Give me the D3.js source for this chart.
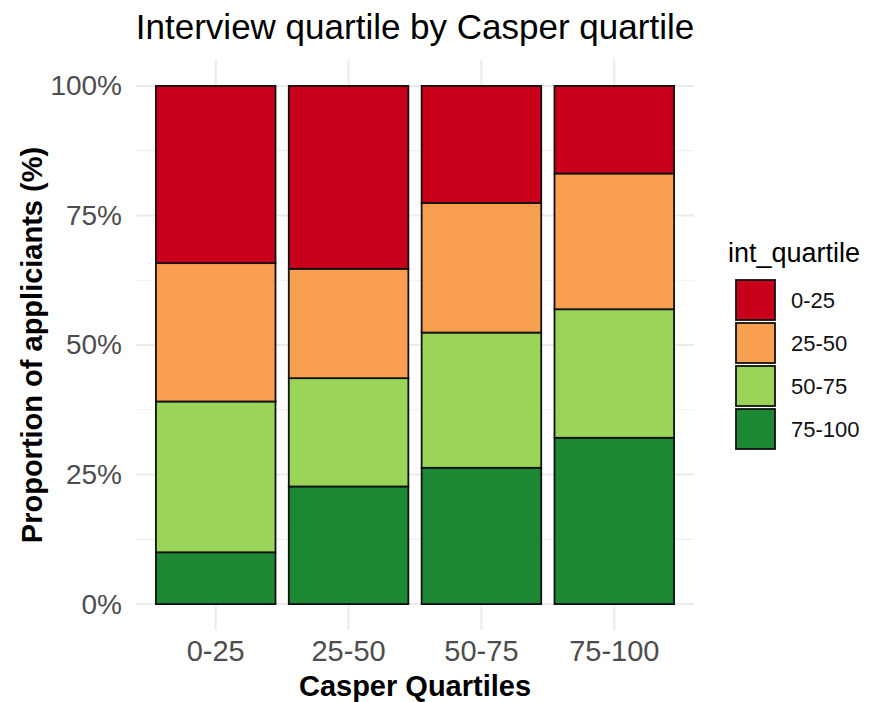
<!DOCTYPE html>
<html>
<head>
<meta charset="utf-8">
<script src="https://cdn.jsdelivr.net/npm/d3@7"></script>
<style>
    body { margin: 0; background: #fff; }
    svg { font-family: "Liberation Sans", Arial, sans-serif; }
</style>
</head>
<body>
<svg id="chart" width="871" height="702"></svg>
<script>
    'use strict';

    // casper quartiles (x axis)
    var casperQuartiles = ['0-25', '25-50', '50-75', '75-100'];
    // interview quartiles (stack order, top to bottom)
    var intQuartiles = ['0-25', '25-50', '50-75', '75-100'];
    // share (%) of each interview quartile per casper quartile
    var share0to25 = [34.2, 35.3, 22.6, 16.9];
    var share25to50 = [26.7, 21.1, 25.0, 26.2];
    var share50to75 = [29.1, 20.9, 26.1, 24.8];
    var share75to100 = [10.0, 22.7, 26.3, 32.1];
    var yTicks = [0, 25, 50, 75, 100];
    var yMinorTicks = [12.5, 37.5, 62.5, 87.5];
    var fillColors = ['#c90019', '#f99f50', '#9ad55a', '#1c8834'];

    var shares = [share0to25, share25to50, share50to75, share75to100];

    var rows = casperQuartiles.map(function (c, i) {
        var row = {casper: c};
        intQuartiles.forEach(function (q, k) {
            row[q] = shares[k][i];
        });
        return row;
    });

    var svg = d3.select('#chart');

    var panel = {left: 136, right: 694, top: 60, bottom: 630};
    var FONT = '"Liberation Sans", Arial, sans-serif';

    var x = d3.scaleBand()
        .domain(casperQuartiles)
        .range([panel.left, panel.right])
        .paddingInner(0.1)
        .paddingOuter(0.15);

    var y = d3.scaleLinear()
        .domain([-5, 105])
        .range([panel.bottom, panel.top]);

    // stack bottom-up: 75-100 first
    var stack = d3.stack().keys(intQuartiles.slice().reverse());
    var series = stack(rows);

    var colorOf = d3.scaleOrdinal().domain(intQuartiles).range(fillColors);

    //Grid
    var grid = svg.append('g');
    grid.selectAll('line.minor').data(yMinorTicks).enter()
        .append('line')
        .attr('x1', panel.left)
        .attr('x2', panel.right)
        .attr('y1', function (d) { return y(d); })
        .attr('y2', function (d) { return y(d); })
        .attr('stroke', '#f0f0f0')
        .attr('stroke-width', 1.2);
    grid.selectAll('line.major').data(yTicks).enter()
        .append('line')
        .attr('x1', panel.left)
        .attr('x2', panel.right)
        .attr('y1', function (d) { return y(d); })
        .attr('y2', function (d) { return y(d); })
        .attr('stroke', '#ebebeb')
        .attr('stroke-width', 2);
    grid.selectAll('line.vmajor').data(casperQuartiles).enter()
        .append('line')
        .attr('x1', function (d) { return x(d) + x.bandwidth() / 2; })
        .attr('x2', function (d) { return x(d) + x.bandwidth() / 2; })
        .attr('y1', panel.top)
        .attr('y2', panel.bottom)
        .attr('stroke', '#ebebeb')
        .attr('stroke-width', 2);

    //Bars
    var barsGroup = svg.append('g');
    series.forEach(function (s) {
        barsGroup.selectAll(null).data(s).enter()
            .append('rect')
            .attr('x', function (d) { return x(d.data.casper); })
            .attr('width', x.bandwidth())
            .attr('y', function (d) { return y(d[1]); })
            .attr('height', function (d) { return y(d[0]) - y(d[1]); })
            .attr('fill', colorOf(s.key))
            .attr('stroke', '#111')
            .attr('stroke-width', 1.8);
    });

    //Axes
    var yAxis = d3.axisLeft(y)
        .tickValues(yTicks)
        .tickFormat(function (d) { return d + '%'; })
        .tickSize(0)
        .tickPadding(14);
    var yAxisG = svg.append('g')
        .attr('transform', 'translate(' + panel.left + ',0)')
        .call(yAxis);
    yAxisG.select('.domain').remove();
    yAxisG.selectAll('text')
        .attr('fill', '#4d4d4d')
        .style('font-size', '28px')
        .style('font-family', FONT);

    var xAxis = d3.axisBottom(x).tickSize(0).tickPadding(10);
    var xAxisG = svg.append('g')
        .attr('transform', 'translate(0,' + panel.bottom + ')')
        .call(xAxis);
    xAxisG.select('.domain').remove();
    xAxisG.selectAll('text')
        .attr('fill', '#4d4d4d')
        .style('font-size', '29px')
        .style('font-family', FONT);

    //Titles
    svg.append('text')
        .attr('x', (panel.left + panel.right) / 2)
        .attr('y', 39)
        .attr('text-anchor', 'middle')
        .style('font-size', '35px')
        .attr('fill', '#000')
        .text('Interview quartile by Casper quartile');

    svg.append('text')
        .attr('x', (panel.left + panel.right) / 2)
        .attr('y', 696)
        .attr('text-anchor', 'middle')
        .style('font-size', '29px')
        .style('font-weight', 'bold')
        .text('Casper Quartiles');

    svg.append('text')
        .attr('transform', 'translate(42,' + ((panel.top + panel.bottom) / 2) + ') rotate(-90)')
        .attr('text-anchor', 'middle')
        .style('font-size', '29px')
        .style('font-weight', 'bold')
        .text('Proportion of appliciants (%)');

    //Legend
    var legend = svg.append('g').attr('transform', 'translate(728,0)');
    legend.append('text')
        .attr('x', 0)
        .attr('y', 262)
        .style('font-size', '27px')
        .text('int_quartile');
    var keys = legend.selectAll('g.key').data(intQuartiles).enter()
        .append('g')
        .attr('transform', function (d, i) { return 'translate(8,' + (280 + i * 43) + ')'; });
    keys.append('rect')
        .attr('width', 39)
        .attr('height', 40)
        .attr('fill', function (d) { return colorOf(d); })
        .attr('stroke', '#111')
        .attr('stroke-width', 1.8);
    keys.append('text')
        .attr('x', 55)
        .attr('y', 28)
        .style('font-size', '22px')
        .attr('fill', '#111')
        .text(function (d) { return d; });
</script>
</body>
</html>
